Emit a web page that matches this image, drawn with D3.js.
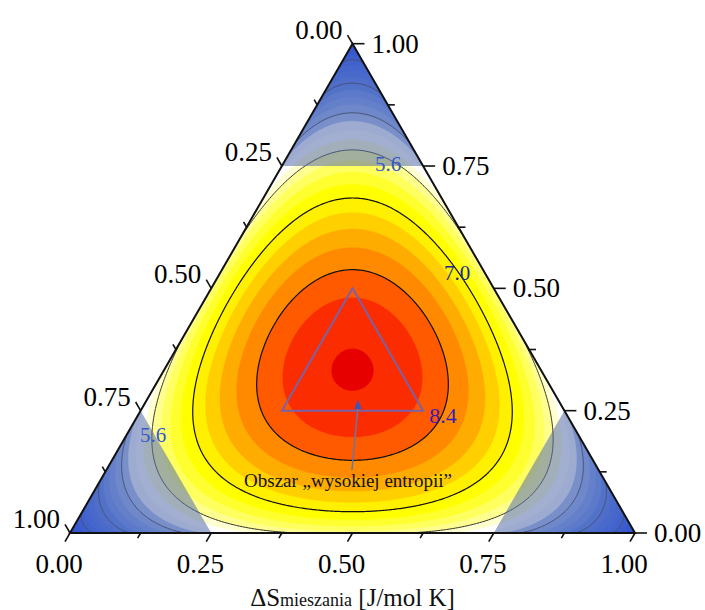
<!DOCTYPE html>
<html>
<head>
<meta charset="utf-8">
<script src="https://cdn.jsdelivr.net/npm/d3@7"></script>
<style>
  body { margin: 0; background: #fff; }
</style>
</head>
<body>
<div id="chart"></div>
<script>
// ideal mixing entropy dS = -R * sum(x ln x), three components (L = left vertex, R = right vertex, T = top)
const R_GAS = 8.314;

const tickValues = [0, 0.25, 0.5, 0.75, 1];
const tickLabels = ["0.00", "0.25", "0.50", "0.75", "1.00"];
const minorTicks = [0.125, 0.375, 0.625, 0.875];

// filled bands every 0.35, lines every 1.4
const fillLevels = [0, 0.35, 0.7, 1.05, 1.4, 1.75, 2.1, 2.45, 2.8, 3.15, 3.5, 3.85, 4.2, 4.55,
  4.9, 5.25, 5.6, 5.95, 6.3, 6.65, 7.0, 7.35, 7.7, 8.05, 8.4, 8.75, 9.1];
const lineLevels = [1.4, 2.8, 4.2, 5.6, 7.0, 8.4];

const colorStops = [0, 2.8, 4.2, 4.55, 4.9, 5.25, 5.6, 6.3, 6.65, 7.0, 7.35, 7.7, 8.05, 8.4, 8.75, 9.1];
const colorRange = ["#0030ff", "#4f78f0", "#a2b8f2", "#f4f6ff", "#ffffff", "#ffffd0", "#ffff90",
  "#ffff30", "#ffff00", "#fff000", "#ffcf00", "#ffac00", "#ff8a00", "#ff5a00", "#fb2c00", "#e60000"];

const cornerLimit = 0.75;
const highEntropy = [[0.5, 0.25, 0.25], [0.25, 0.5, 0.25], [0.25, 0.25, 0.5]];

const contourLabels = ["5.6", "5.6", "7.0", "8.4"];
const contourLabelAt = [[0.067, 0.193, 0.740], [0.760, 0.054, 0.186], [0.056, 0.4265, 0.517], [0.2274, 0.5478, 0.2248]];
const contourLabelColor = ["#3458cc", "#3458cc", "#1c2898", "#3a1cb4"];

const FONT = "'Liberation Serif', 'Times New Roman', Times, serif";
const W = 705, H = 610;
const xL = 70, xR = 635, yB = 533;
const side = xR - xL;
const yTop = yB - side * Math.sqrt(3) / 2;

const bx = d3.scaleLinear().domain([0, 1]).range([xL, xR]);
const ty = d3.scaleLinear().domain([0, 1]).range([yB, yTop]);
const color = d3.scaleLinear().domain(colorStops).range(colorRange);

// ternary (L, R, T) -> pixel
const pt = (l, r, t) => [bx(r + t / 2), ty(t)];

function entropyAt(px, py) {
  let t = ty.invert(py);
  let r = bx.invert(px) - t / 2;
  let l = 1 - r - t;
  t = Math.max(t, 0); r = Math.max(r, 0); l = Math.max(l, 0);
  const s = l + r + t;
  let f = 0;
  [l / s, r / s, t / s].forEach(x => { if (x > 0) f -= x * Math.log(x); });
  return R_GAS * f;
}

const svg = d3.select("#chart").append("svg")
  .attr("width", W).attr("height", H)
  .attr("font-family", FONT);

const triPts = [pt(1, 0, 0), pt(0, 1, 0), pt(0, 0, 1)];

svg.append("clipPath").attr("id", "tri")
  .append("polygon").attr("points", triPts.map(p => p.join(",")).join(" "));

// grid
const step = 1.5;
const x0 = xL, y0 = yTop;
const nx = Math.ceil(side / step) + 2, ny = Math.ceil((yB - yTop) / step) + 2;
const grid = new Float64Array(nx * ny);
for (let j = 0; j < ny; j++) {
  for (let i = 0; i < nx; i++) {
    grid[j * nx + i] = entropyAt(x0 + i * step, y0 + j * step);
  }
}

const proj = d3.geoIdentity().scale(step).translate([x0 - step / 2, y0 - step / 2]);
const path = d3.geoPath(proj);

const plot = svg.append("g").attr("clip-path", "url(#tri)");

const bands = d3.contours().size([nx, ny]).thresholds(fillLevels)(grid);
plot.selectAll("path.band")
  .data(bands)
  .join("path")
  .attr("class", "band")
  .attr("d", path)
  .attr("fill", d => color(d.value))
  .attr("stroke", d => color(d.value))
  .attr("stroke-width", 0.5);

const lines = d3.contours().size([nx, ny]).thresholds(lineLevels)(grid);
plot.selectAll("path.iso")
  .data(lines)
  .join("path")
  .attr("class", "iso")
  .attr("d", path)
  .attr("fill", "none")
  .attr("stroke", d => d.value < 6 ? "#333" : "#111")
  .attr("stroke-width", d => d.value < 6 ? 1 : 1.2);

// corner regions (one component above 0.75)
const c = cornerLimit, e = 1 - cornerLimit;
const corners = [
  [pt(1, 0, 0), pt(c, e, 0), pt(c, 0, e)],
  [pt(0, 1, 0), pt(e, c, 0), pt(0, c, e)],
  [pt(0, 0, 1), pt(e, 0, c), pt(0, e, c)]
];
plot.selectAll("polygon.corner")
  .data(corners)
  .join("polygon")
  .attr("class", "corner")
  .attr("points", d => d.map(p => p.join(",")).join(" "))
  .attr("fill", "rgb(85,110,170)")
  .attr("fill-opacity", 0.55);

// high entropy triangle
svg.append("polygon")
  .attr("points", highEntropy.map(v => pt(...v).join(",")).join(" "))
  .attr("fill", "none")
  .attr("stroke", "#7a62a6")
  .attr("stroke-width", 2);

// arrow
const tail = pt(0.4365, 0.4347, 0.1288), head = pt(0.3544, 0.3738, 0.2718);
svg.append("line")
  .attr("x1", tail[0]).attr("y1", tail[1])
  .attr("x2", head[0]).attr("y2", head[1] + 6)
  .attr("stroke", "#6878a8").attr("stroke-width", 1.5);
svg.append("path")
  .attr("d", `M${head[0]},${head[1]} l-3.5,9 l7,0 z`)
  .attr("fill", "#3556c0");

svg.append("text")
  .attr("x", 348).attr("y", 487)
  .attr("text-anchor", "middle")
  .attr("font-size", 19)
  .attr("fill", "#111")
  .text("Obszar \u201Ewysokiej entropii\u201D");

// contour labels
svg.selectAll("text.clab")
  .data(contourLabels)
  .join("text")
  .attr("class", "clab")
  .attr("x", (d, i) => pt(...contourLabelAt[i])[0])
  .attr("y", (d, i) => pt(...contourLabelAt[i])[1])
  .attr("text-anchor", "middle")
  .attr("font-size", (d, i) => i === 3 ? 22 : 21)
  .attr("fill", (d, i) => contourLabelColor[i])
  .text(d => d);

// triangle frame
svg.append("polygon")
  .attr("points", triPts.map(p => p.join(",")).join(" "))
  .attr("fill", "none")
  .attr("stroke", "#111")
  .attr("stroke-width", 2)
  .attr("stroke-linejoin", "miter");

const axes = svg.append("g").attr("stroke", "#111").attr("stroke-width", 1.6);
const cos60 = 0.5, sin60 = Math.sqrt(3) / 2;

function bottomPt(v) { return pt(1 - v, v, 0); }
function leftPt(v) { return pt(v, 0, 1 - v); }
function rightPt(v) { return pt(0, 1 - v, v); }

tickValues.forEach(v => {
  let p = bottomPt(v);
  axes.append("line").attr("x1", p[0]).attr("y1", p[1])
    .attr("x2", p[0] - 10 * cos60).attr("y2", p[1] + 10 * sin60);
  p = leftPt(v);
  axes.append("line").attr("x1", p[0]).attr("y1", p[1])
    .attr("x2", p[0] - 10 * cos60).attr("y2", p[1] - 10 * sin60);
  p = rightPt(v);
  axes.append("line").attr("x1", p[0]).attr("y1", p[1])
    .attr("x2", p[0] + 12).attr("y2", p[1]);
});
minorTicks.forEach(v => {
  let p = bottomPt(v);
  axes.append("line").attr("x1", p[0]).attr("y1", p[1])
    .attr("x2", p[0] - 6 * cos60).attr("y2", p[1] + 6 * sin60);
  p = leftPt(v);
  axes.append("line").attr("x1", p[0]).attr("y1", p[1])
    .attr("x2", p[0] - 6 * cos60).attr("y2", p[1] - 6 * sin60);
  p = rightPt(v);
  axes.append("line").attr("x1", p[0]).attr("y1", p[1])
    .attr("x2", p[0] + 7).attr("y2", p[1]);
});

const tickFont = 27;
svg.append("g").selectAll("text")
  .data(tickValues)
  .join("text")
  .attr("x", d => bottomPt(d)[0] - 11)
  .attr("y", d => bottomPt(d)[1] + 40)
  .attr("text-anchor", "middle")
  .attr("font-size", tickFont)
  .text((d, i) => tickLabels[i]);

svg.append("g").selectAll("text")
  .data(tickValues)
  .join("text")
  .attr("x", d => leftPt(d)[0] - 10)
  .attr("y", d => leftPt(d)[1] - 5)
  .attr("text-anchor", "end")
  .attr("font-size", tickFont)
  .text((d, i) => tickLabels[i]);

svg.append("g").selectAll("text")
  .data(tickValues)
  .join("text")
  .attr("x", d => rightPt(d)[0] + 19)
  .attr("y", d => rightPt(d)[1] + 9)
  .attr("text-anchor", "start")
  .attr("font-size", tickFont)
  .text((d, i) => tickLabels[i]);

// axis title
const title = svg.append("text")
  .attr("x", (xL + xR) / 2)
  .attr("y", 606)
  .attr("text-anchor", "middle")
  .attr("font-size", 25)
  .attr("fill", "#111");
title.append("tspan").text("\u0394S");
title.append("tspan").attr("font-size", 18).text("mieszania");
title.append("tspan").text(" [J/mol K]");
</script>
</body>
</html>
